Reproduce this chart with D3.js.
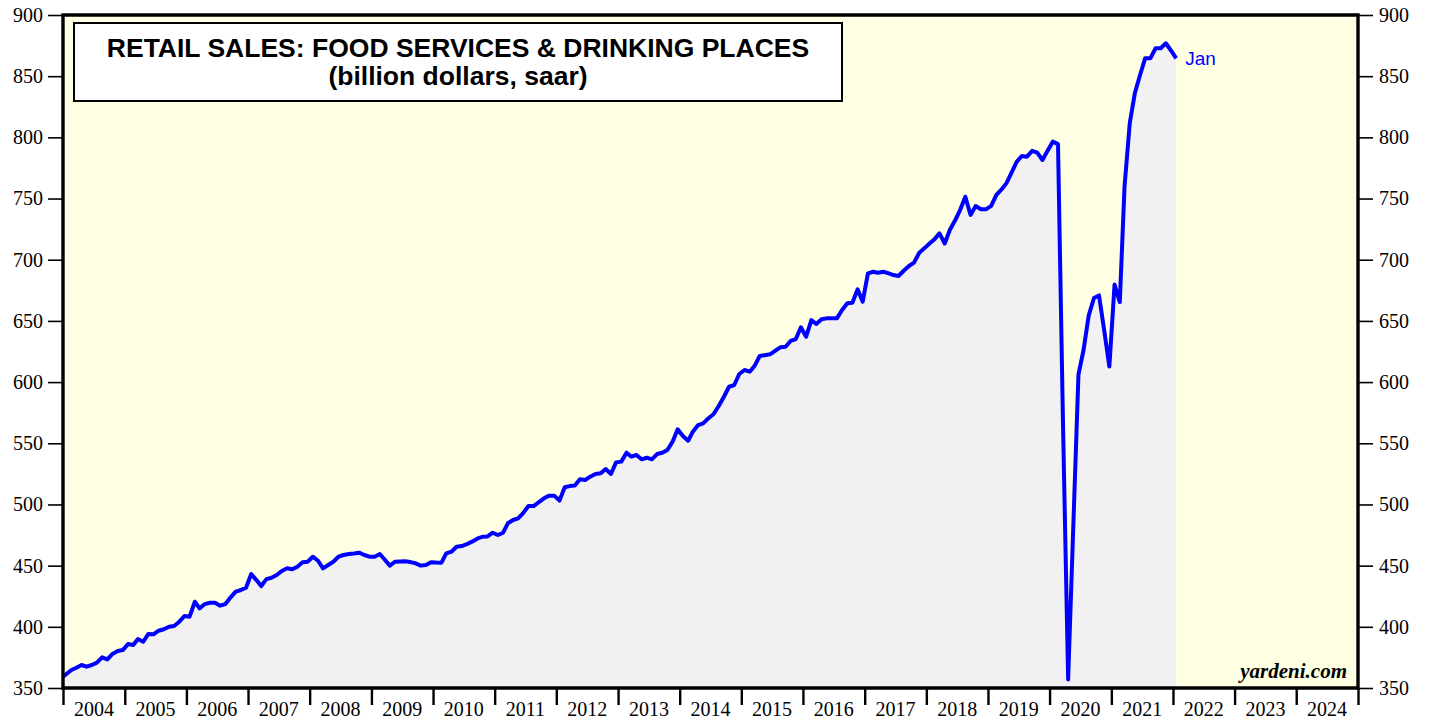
<!DOCTYPE html>
<meta charset="utf-8">
<head>
    <script src="https://d3js.org/d3.v7.min.js"></script>
    <style>
        body { margin: 0; background: #fff; }
    </style>
</head>
<body>
    <div id="chart"></div>
    <script>
        // chart text
        const titleLines = ["RETAIL SALES: FOOD SERVICES & DRINKING PLACES", "(billion dollars, saar)"];
        const lastLabel = "Jan";
        const sourceLabel = "yardeni.com";

        // x axis: one label per year
        const yearLabels = d3.range(2004, 2025);
        // y axis ticks (same on both sides)
        const yTicks = [350, 400, 450, 500, 550, 600, 650, 700, 750, 800, 850, 900];

        // monthly series, first value = Jan 2004, last value = Jan 2022
        const startYear = 2004;
        const sales = [
            359.2, 364.7, 366.6, 368.8, 367.4, 368.8, 370.7, 375.1, 373.4, 377.8, 380.2, 381.0, // 2004
            385.9, 385.1, 390.0, 387.8, 394.1, 393.9, 396.8, 398.0, 400.1, 400.7, 404.2, 408.8, // 2005
            408.3, 420.5, 415.1, 418.6, 419.7, 419.7, 417.3, 418.6, 424.1, 428.7, 430.1, 432.0, // 2006
            443.1, 438.2, 433.3, 439.0, 440.1, 442.3, 445.6, 447.8, 447.0, 449.1, 452.7, 453.2, // 2007
            457.3, 454.0, 447.8, 450.5, 453.2, 457.3, 458.7, 459.5, 460.0, 460.6, 458.7, 457.3, // 2008
            457.3, 459.5, 455.0, 450.0, 453.2, 453.4, 453.5, 452.9, 451.9, 450.0, 450.5, 452.7, // 2009
            452.5, 452.4, 460.0, 461.4, 465.4, 466.0, 467.5, 469.6, 472.0, 473.6, 473.9, 476.9, // 2010
            475.0, 476.9, 484.6, 487.3, 488.7, 493.2, 498.7, 498.7, 502.0, 505.0, 507.2, 507.2, // 2011
            503.2, 514.1, 515.0, 515.4, 520.6, 520.0, 522.7, 524.9, 525.5, 529.0, 524.9, 534.4, // 2012
            535.0, 542.3, 539.1, 540.4, 536.9, 538.2, 536.9, 541.2, 542.3, 544.5, 551.3, 561.4, // 2013
            556.0, 552.1, 559.5, 564.9, 566.3, 570.4, 573.7, 580.5, 588.0, 596.2, 597.6, 606.6, // 2014
            609.9, 608.5, 613.1, 621.3, 622.0, 622.7, 625.5, 628.4, 628.9, 633.6, 635.2, 644.8, // 2015
            637.1, 650.7, 647.5, 651.3, 652.1, 652.1, 652.1, 658.9, 664.4, 664.9, 675.8, 665.7, // 2016
            688.9, 690.2, 689.4, 690.2, 689.0, 687.5, 686.7, 691.0, 694.9, 697.6, 705.7, 709.3, // 2017
            713.3, 717.0, 721.5, 713.3, 724.3, 732.0, 740.6, 751.5, 736.6, 743.9, 741.2, 741.2, // 2018
            744.0, 753.0, 757.0, 762.4, 771.0, 780.0, 784.8, 784.2, 789.0, 787.5, 781.5, 789.0, // 2019
            796.5, 794.5, 570.0, 357.0, 480.0, 606.0, 626.0, 654.5, 668.7, 670.8, 642.0, 612.7, // 2020
            679.7, 665.4, 759.8, 811.7, 836.0, 851.0, 864.6, 864.6, 872.8, 872.8, 876.9, 871.0, // 2021
            864.6                                                                                // 2022
        ];

        const W = 1429, H = 719;
        const m = { left: 63, right: 1358, top: 15, bottom: 688 };

        const data = sales.map((v, i) => ({ date: new Date(startYear, i, 20), value: v }));

        const svg = d3.select("#chart").append("svg")
            .attr("width", W)
            .attr("height", H)
            .style("display", "block");

        const x = d3.scaleTime()
            .domain([new Date(2004, 0, 1), new Date(2025, 0, 1)])
            .range([m.left, m.right]);

        const y = d3.scaleLinear()
            .domain([350, 900])
            .range([m.bottom, m.top]);

        svg.append("defs").append("clipPath").attr("id", "plot")
            .append("rect")
            .attr("x", m.left).attr("y", m.top)
            .attr("width", m.right - m.left).attr("height", m.bottom - m.top);

        // plot background
        svg.append("rect")
            .attr("x", m.left).attr("y", m.top)
            .attr("width", m.right - m.left).attr("height", m.bottom - m.top)
            .attr("fill", "#ffffe3");

        const plot = svg.append("g").attr("clip-path", "url(#plot)");

        // grey area under the line, starting at the left axis
        plot.append("path")
            .datum(data)
            .attr("fill", "#f1f1f1")
            .attr("d", d3.area()
                .x((d, i) => i === 0 ? m.left : x(d.date))
                .y0(m.bottom)
                .y1(d => y(d.value)));

        plot.append("path")
            .datum(data)
            .attr("fill", "none")
            .attr("stroke", "#0000ff")
            .attr("stroke-width", 4)
            .attr("stroke-linejoin", "round")
            .attr("d", d3.line()
                .x((d, i) => i === 0 ? m.left : x(d.date))
                .y(d => y(d.value)));

        // y axes
        const yAxisL = svg.append("g")
            .attr("transform", "translate(" + m.left + ",0)")
            .call(d3.axisLeft(y).tickValues(yTicks).tickSize(15).tickPadding(5));
        const yAxisR = svg.append("g")
            .attr("transform", "translate(" + m.right + ",0)")
            .call(d3.axisRight(y).tickValues(yTicks).tickSize(15).tickPadding(6));

        [yAxisL, yAxisR].forEach(g => {
            g.select(".domain").remove();
            g.selectAll(".tick line").attr("stroke", "#000").attr("stroke-width", 1.6);
            g.selectAll("text")
                .attr("fill", "#000")
                .style("font-family", "'Liberation Serif', 'Times New Roman', serif")
                .style("font-size", "20px");
        });

        // x axis: ticks at year boundaries, labels centred in each year
        const yearEdges = d3.range(2004, 2026).map(yr => new Date(yr, 0, 1));
        const xAxis = svg.append("g")
            .attr("transform", "translate(0," + m.bottom + ")")
            .call(d3.axisBottom(x).tickValues(yearEdges).tickSize(17).tickFormat(""));
        xAxis.select(".domain").remove();
        xAxis.selectAll(".tick line").attr("stroke", "#000").attr("stroke-width", 2.4);

        svg.append("g").selectAll("text")
            .data(yearLabels)
            .join("text")
            .attr("x", d => (x(new Date(d, 0, 1)) + x(new Date(d + 1, 0, 1))) / 2)
            .attr("y", 716)
            .attr("text-anchor", "middle")
            .style("font-family", "'Liberation Serif', 'Times New Roman', serif")
            .style("font-size", "20px")
            .text(d => d);

        // frame
        svg.append("path")
            .attr("d", "M" + m.left + "," + (m.bottom + 2) + "V" + m.top + "H" + m.right + "V" + (m.bottom + 2))
            .attr("fill", "none")
            .attr("stroke", "#000")
            .attr("stroke-width", 3.4);
        svg.append("line")
            .attr("x1", m.left).attr("x2", m.right)
            .attr("y1", m.bottom).attr("y2", m.bottom)
            .attr("stroke", "#000")
            .attr("stroke-width", 3.4);

        // title box
        svg.append("rect")
            .attr("x", 74).attr("y", 23)
            .attr("width", 768).attr("height", 78)
            .attr("fill", "#fff")
            .attr("stroke", "#000")
            .attr("stroke-width", 2);
        svg.append("g").selectAll("text")
            .data(titleLines)
            .join("text")
            .attr("x", 458)
            .attr("y", (d, i) => 57 + i * 28)
            .attr("text-anchor", "middle")
            .style("font-family", "'Liberation Sans', Arial, sans-serif")
            .style("font-weight", "bold")
            .style("font-size", "26.5px")
            .text(d => d);

        // label at the last point
        const last = data[data.length - 1];
        svg.append("text")
            .attr("x", x(last.date) + 9)
            .attr("y", y(last.value) + 7)
            .attr("fill", "#0000ff")
            .style("font-family", "'Liberation Sans', Arial, sans-serif")
            .style("font-size", "19px")
            .text(lastLabel);

        svg.append("text")
            .attr("x", 1347)
            .attr("y", 678)
            .attr("text-anchor", "end")
            .style("font-family", "'Liberation Serif', 'Times New Roman', serif")
            .style("font-weight", "bold")
            .style("font-style", "italic")
            .style("font-size", "21px")
            .text(sourceLabel);
    </script>
</body>
